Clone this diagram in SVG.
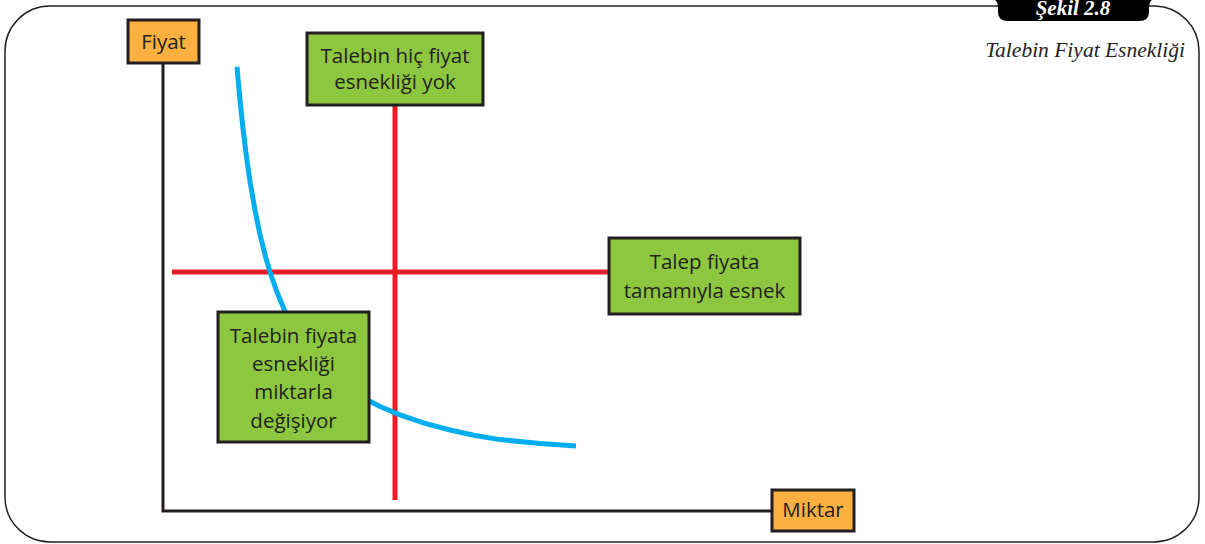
<svg xmlns="http://www.w3.org/2000/svg" width="1205" height="544" viewBox="0 0 1205 544">
  <style>
    .frame { fill: none; stroke: #231f20; stroke-width: 1.5; }
    .axis { fill: none; stroke: #231f20; stroke-width: 3; }
    .red { fill: none; stroke: #ed1c24; stroke-width: 5; }
    .curve { fill: none; stroke: #00aeef; stroke-width: 5; stroke-linejoin: round; }
    .orange { fill: #fbb040; stroke: #231f20; stroke-width: 3; }
    .green { fill: #8dc63f; stroke: #231f20; stroke-width: 3; }
    .lbl { font-family: "Open Sans", "Noto Sans", sans-serif; font-size: 20.5px; fill: #231f20; text-anchor: middle; }
    .title { font-family: "Liberation Serif", serif; font-style: italic; font-size: 21.5px; fill: #231f20; text-anchor: end; }
    .tabtxt { font-family: "Liberation Serif", serif; font-style: italic; font-weight: bold; font-size: 21px; fill: #ffffff; text-anchor: middle; }
  </style>

  <rect width="1205" height="544" fill="#ffffff"/>

  <!-- rounded page frame with the figure tab -->
  <g id="frame">
    <path class="frame" d="M50,6 H1155 A45,45 0 0 1 1199,51 V497 A45,45 0 0 1 1154,542 H50 A45,45 0 0 1 5,497 V51 A45,45 0 0 1 50,6 Z"/>
    <path d="M995,0 Q998,2 998,8 V12 Q998,21 1008,21 H1139 Q1149,21 1149,12 V8 Q1149,2 1152,0 Z" fill="#000000"/>
    <text class="tabtxt" x="1073" y="15">Şekil 2.8</text>
    <text class="title" x="1185" y="57">Talebin Fiyat Esnekliği</text>
  </g>

  <!-- axes, red reference lines and the demand curve -->
  <g id="connectors">
    <polyline class="axis" points="163,63 163,511 772,511"/>
    <line class="red" x1="395" y1="106" x2="395" y2="500"/>
    <line class="red" x1="172" y1="272" x2="609" y2="272"/>
    <path class="curve" d="M237,66.7 L238,78.5 L240,100.1 L243,128.7 L246,153.3 L250,181.3 L255,210.4 L260,234.5 L265,254.7 L270,272 L277,292.3 L285,311.4 L295,330.5 L305,346 L320,364.3 L340,382.4 L360,396 L380,406.5 L400,414.9 L425,423.3 L450,430 L475,435.5 L500,439.6 L540,443.5 L576,446"/>
  </g>

  <g id="node-fiyat">
    <rect class="orange" x="128" y="20" width="71" height="43"/>
    <text class="lbl" x="163.5" y="49">Fiyat</text>
  </g>

  <g id="node-miktar">
    <rect class="orange" x="772" y="490" width="82" height="41"/>
    <text class="lbl" x="813" y="517">Miktar</text>
  </g>

  <g id="node-inelastic">
    <rect class="green" x="307" y="33" width="176" height="72"/>
    <text class="lbl" x="395" y="63">Talebin hiç fiyat</text>
    <text class="lbl" x="395" y="89">esnekliği yok</text>
  </g>

  <g id="node-elastic">
    <rect class="green" x="609" y="238" width="191" height="76"/>
    <text class="lbl" x="704.5" y="269">Talep fiyata</text>
    <text class="lbl" x="704.5" y="298">tamamıyla esnek</text>
  </g>

  <g id="node-variable">
    <rect class="green" x="218" y="312" width="151" height="130"/>
    <text class="lbl" x="293.5" y="343">Talebin fiyata</text>
    <text class="lbl" x="293.5" y="371">esnekliği</text>
    <text class="lbl" x="293.5" y="399">miktarla</text>
    <text class="lbl" x="293.5" y="428">değişiyor</text>
  </g>
</svg>
